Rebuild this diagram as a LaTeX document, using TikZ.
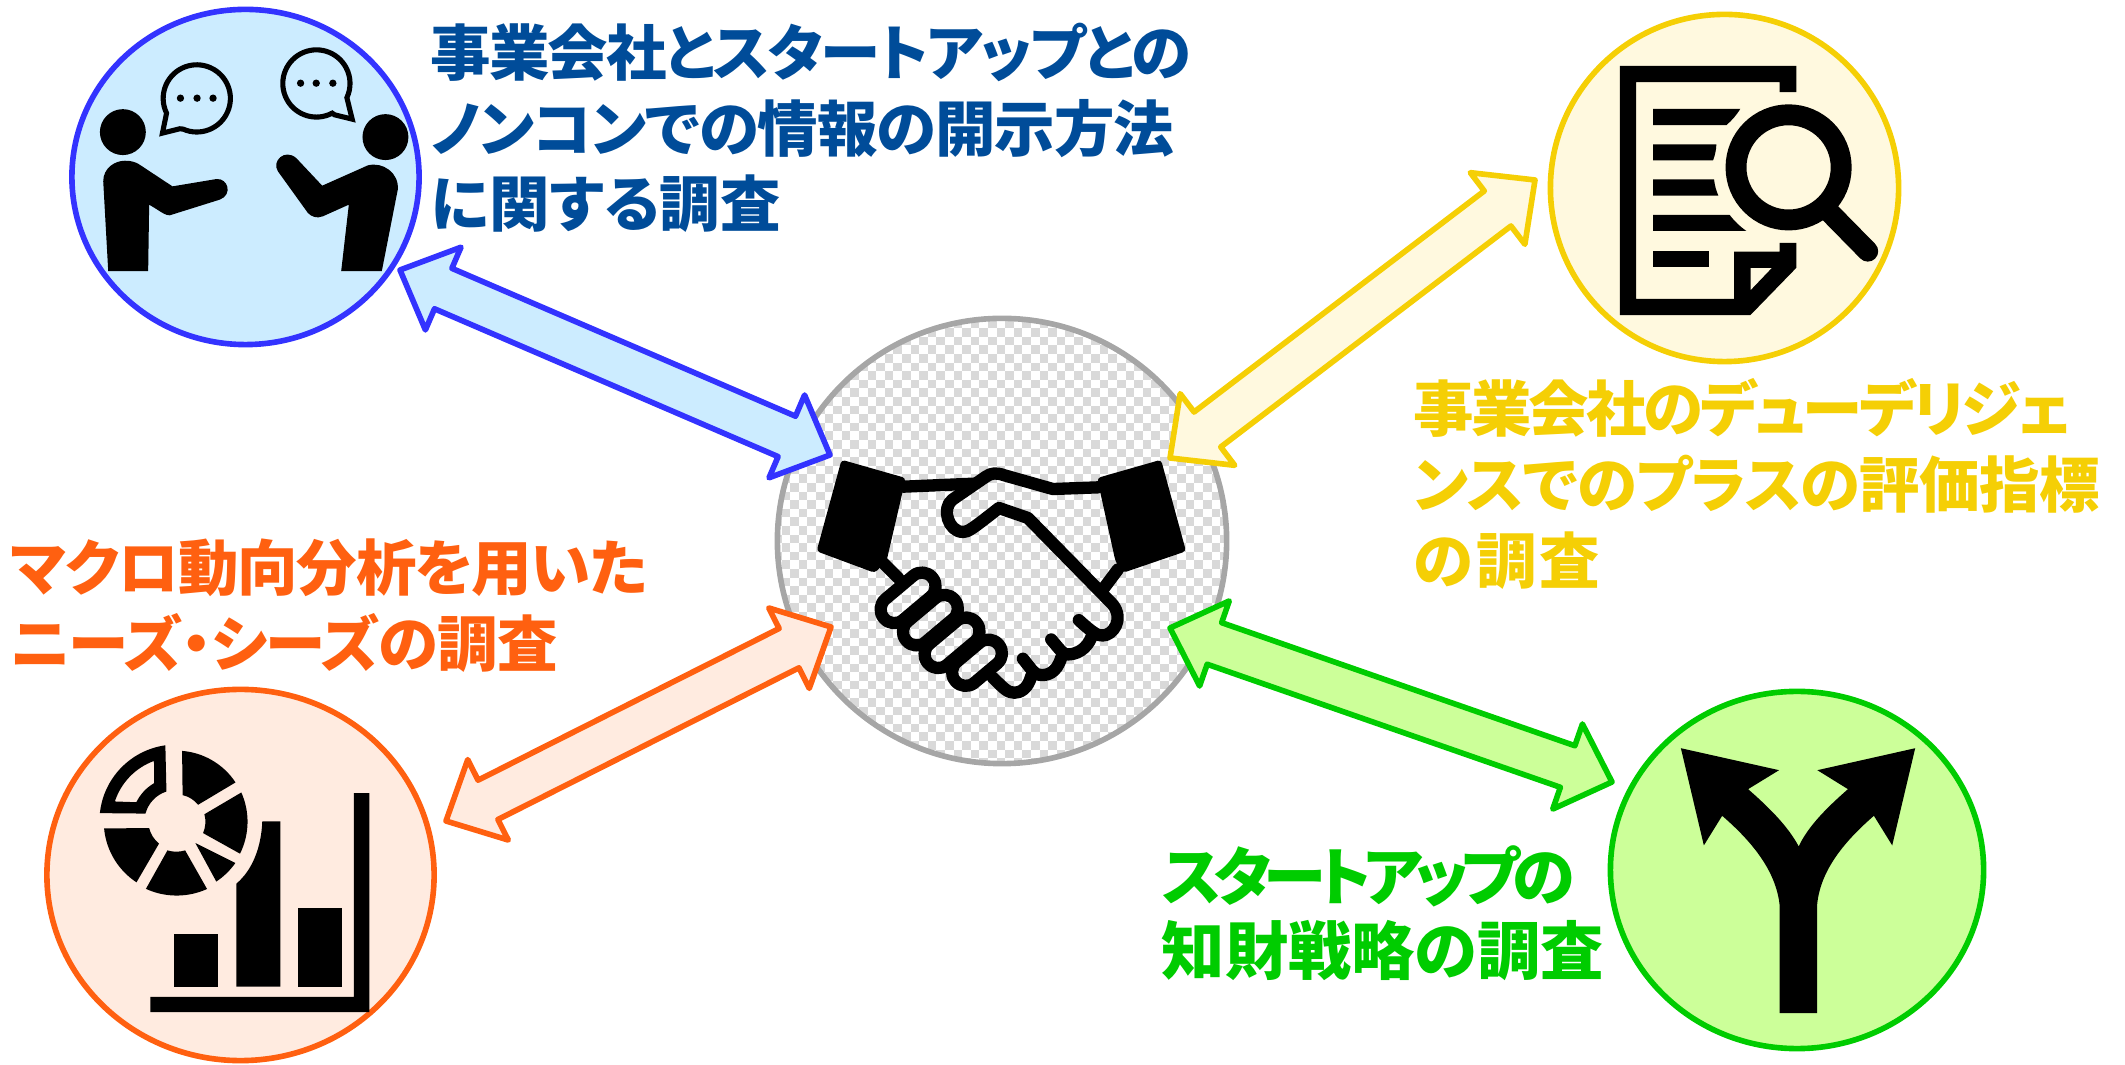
\documentclass[tikz,border=0pt]{standalone}
\usepackage{fontspec}
\newfontfamily\jpfont{Noto Sans CJK JP}[RawFeature=+palt]
\newcommand{\squeeze}[2]{{\addfontfeature{LetterSpace=#1}#2}}
\usetikzlibrary{positioning}
\usetikzlibrary{calc}
\usetikzlibrary{shapes.geometric}

\definecolor{talkline}{HTML}{3333FF}
\definecolor{talkfill}{HTML}{CCECFF}
\definecolor{talktext}{HTML}{004C99}
\definecolor{reportline}{HTML}{F5CF05}
\definecolor{reportfill}{HTML}{FFF9DF}
\definecolor{dataline}{HTML}{FF6010}
\definecolor{datafill}{HTML}{FFEBE0}
\definecolor{forkline}{HTML}{00CC00}
\definecolor{forkfill}{HTML}{CCFF99}
\definecolor{hubline}{HTML}{A6A6A6}
\definecolor{checker}{HTML}{D9D9D9}

\tikzset{
    bubble/.style={ellipse, draw, line width=1.6pt, inner sep=0pt, outer sep=0pt},
    caption/.style={anchor=north west, inner sep=0pt, align=left, font=\jpfont\bfseries\fontsize{17.2pt}{21.6pt}\selectfont},
    icon/.style={x=0.003333cm, y=-0.003333cm},
    blockarrow/.style={line width=1.6pt, line join=round},
    grip/.style={draw=black, line width=3.5pt, line cap=round, line join=round}
}

\begin{document}
\begin{tikzpicture}[x=0.01cm, y=-0.01cm]
    \useasboundingbox (0,0) rectangle (2125,1065);

    % Checkered centre
    \begin{scope}
        \clip (1002,541) ellipse (225 and 223);
        \foreach \off in {0,1}
            \foreach \i in {0,2,...,54}
                \foreach \j in {0,2,...,54}
                    \fill[checker] ({773+(\i+\off)*8.6},{311.1+(\j+\off)*8.6}) rectangle ++(8.6,8.6);
    \end{scope}

    % The circles
    \node[bubble, draw=hubline, minimum width=4.49cm, minimum height=4.45cm] (hub) at (1002,541) {};
    \node[bubble, draw=talkline, fill=talkfill, minimum width=3.47cm, minimum height=3.35cm] (talk) at (245.5,177) {};
    \node[bubble, draw=reportline, fill=reportfill, minimum width=3.48cm, minimum height=3.47cm] (report) at (1724.5,188) {};
    \node[bubble, draw=dataline, fill=datafill, minimum width=3.87cm, minimum height=3.71cm] (data) at (240.5,875) {};
    \node[bubble, draw=forkline, fill=forkfill, minimum width=3.73cm, minimum height=3.57cm] (fork) at (1797,870) {};

    % Define the tips of the arrows
    \coordinate (talkout) at (400,270);
    \coordinate (talkin) at (830,455);
    \coordinate (reportout) at (1535,180);
    \coordinate (reportin) at (1170,458);
    \coordinate (dataout) at (446,821);
    \coordinate (datain) at (831,627);
    \coordinate (forkout) at (1612,782);
    \coordinate (forkin) at (1170,628);

    % Draw the arrows
    \foreach \tipa/\tipb/\colline/\colfill in {talkout/talkin/talkline/talkfill, reportout/reportin/reportline/reportfill, dataout/datain/dataline/datafill, forkout/forkin/forkline/forkfill} {
        \coordinate (s) at ($(\tipa)!0.47cm!(\tipb)$);
        \coordinate (e) at ($(\tipb)!0.47cm!(\tipa)$);
        \draw[blockarrow, draw=\colline, fill=\colfill] (\tipa)
            -- ($(s)!0.45cm!90:(\tipb)$) -- ($(s)!0.22cm!90:(\tipb)$)
            -- ($(e)!0.22cm!-90:(\tipa)$) -- ($(e)!0.45cm!-90:(\tipa)$)
            -- (\tipb)
            -- ($(e)!0.45cm!90:(\tipa)$) -- ($(e)!0.22cm!90:(\tipa)$)
            -- ($(s)!0.22cm!-90:(\tipb)$) -- ($(s)!0.45cm!-90:(\tipb)$) -- cycle;
    }

    % Two people talking
    \begin{scope}[shift={(40,0)}, icon]
        \fill (249,397) circle (69);
        \fill (1038,412) circle (69);
        \fill (205,815) -- (190,545) .. controls (190,505) and (225,483) .. (255,483)
            .. controls (275,483) and (285,487) .. (295,492) -- (398,560) -- (530,538)
            .. controls (565,535) and (580,585) .. (540,600) -- (390,647)
            .. controls (375,647) and (370,640) .. (328,615) -- (325,815) -- cycle;
        \fill (905,815) -- (928,615) -- (850,650) .. controls (830,658) and (815,650) .. (805,640)
            -- (715,515) .. controls (695,485) and (735,445) .. (770,475) -- (848,558) -- (985,497)
            .. controls (1030,485) and (1080,520) .. (1075,570) -- (1027,815) -- cycle;
        \draw[line width=1.45pt, line join=miter] (430,388) arc (114:-206:101) -- (368,400) -- (420,387) -- cycle;
        \draw[line width=1.45pt, line join=miter] (878,340) arc (62:385:101) -- (938,358) -- (885,345) -- cycle;
        \foreach \dotx/\doty in {422/295, 472/295, 520/295, 783/250, 830/250, 880/250}
            \fill (\dotx,\doty) circle (11);
    \end{scope}

    % Report with magnifier
    \begin{scope}[shift={(1530,0)}, icon]
        \fill[even odd rule] (270,198) -- (800,198) -- (800,277) -- (750,277) -- (750,247) -- (319,247)
            -- (319,898) -- (613,898) -- (613,756) -- (750,756) -- (750,730) -- (800,730) -- (800,805)
            -- (662,947) -- (270,947) -- cycle
            (663,805) -- (727,805) -- (663,872) -- cycle;
        \fill (370,327) -- (632,327) to[bend left=8] (590,376) -- (370,376) -- cycle;
        \fill (370,434) -- (560,434) to[bend left=8] (550,482) -- (370,482) -- cycle;
        \fill (370,539) -- (553,539) to[bend right=8] (566,588) -- (370,588) -- cycle;
        \fill (370,646) -- (600,646) to[bend right=8] (650,694) -- (370,694) -- cycle;
        \fill (370,754) rectangle (538,802);
        \draw[line width=5.95pt] (777,503) circle (158);
        \draw[line width=5.9pt, line cap=round] (902,640) -- (1015,755);
    \end{scope}

    % Pie and bar chart
    \begin{scope}[shift={(30,680)}, icon]
        \fill[even odd rule] (210,400) arc (186:262:230) -- (410,335) arc (252:195:96) -- cycle
            (255,365) arc (198:250:193) -- (373,310) arc (240:206:134) -- cycle;
        \fill (457,213) arc (274.6:326.5:213) -- (505,375) arc (322:282:80) -- cycle;
        \fill (635,338) arc (336:386.4:216) -- (520,460) arc (23.6:-15.4:85) -- cycle;
        \fill (617,550) arc (35.2:56.3:218) -- (497,490) -- cycle;
        \fill (532,628) arc (65.6:114.7:221) -- (413,512) arc (107:73:91) -- cycle;
        \fill (320,608) arc (123.3:174.7:218) -- (358,445) arc (166:129:87) -- cycle;
        \fill (433,764) rectangle (565,921);
        \fill (620,921) -- (620,612) .. controls (670,570) and (695,500) .. (698,425) -- (752,425) -- (752,921) -- cycle;
        \fill (804,686) rectangle (936,921);
        \fill (362,952) -- (973,952) -- (973,340) -- (1020,340) -- (1020,998) -- (362,998) -- cycle;
    \end{scope}

    % Forked road
    \begin{scope}[shift={(1600,680)}, icon]
        \fill (540,1001) -- (540,680) .. controls (530,570) and (450,480) .. (367,408)
            -- (312,497) -- (243,205) -- (538,271) -- (445,328)
            .. controls (510,385) and (565,440) .. (597,500)
            .. controls (625,440) and (680,385) .. (745,328)
            -- (653,271) -- (947,205) -- (878,497) -- (823,408)
            .. controls (740,480) and (660,570) .. (652,680) -- (652,1001) -- cycle;
    \end{scope}

    % Handshake
    \begin{scope}[shift={(760,300)}, icon]
        \fill[rounded corners=1pt] (245,480) -- (438,535) -- (380,785) -- (345,820) -- (170,755) -- cycle;
        \fill[rounded corners=1pt] (1205,480) -- (1013,535) -- (1068,785) -- (1090,820) -- (1280,755) -- cycle;
        \draw[grip] (430,561) -- (640,552);
        \draw[grip] (1015,563) -- (880,568) -- (735,527) .. controls (710,518) and (695,520) .. (680,530)
            -- (578,600) .. controls (545,625) and (565,697) .. (610,697)
            .. controls (625,697) and (635,690) .. (718,625) -- (805,655) -- (1060,915)
            .. controls (1095,960) and (1060,1008) .. (1030,1008)
            .. controls (1015,1008) and (1005,1005) .. (958,962);
        \draw[grip] (1000,1000) .. controls (985,1055) and (945,1065) .. (925,1065)
            .. controls (910,1065) and (905,1055) .. (875,1020);
        \draw[grip] (905,1075) .. controls (890,1125) and (860,1127) .. (845,1127)
            .. controls (825,1127) and (820,1115) .. (790,1078);
        \draw[grip] (815,1130) .. controls (805,1170) and (780,1180) .. (765,1180)
            .. controls (745,1180) and (735,1170) .. (700,1135);
        \draw[grip] (370,790) -- (415,835);
        \draw[grip] (1075,810) -- (1030,870);
        \foreach \cx/\cy/\half in {445/895/95, 512/962/95, 577/1030/95, 652/1090/85}
            \draw[grip, rotate around={40:(\cx,\cy)}, rounded corners=3.8pt] (\cx-\half,\cy-41) rectangle (\cx+\half,\cy+41);
    \end{scope}

    % The labels
    \node[caption, text=talktext] (talklabel) at (430,22) {\squeeze{-3.3}{事業会社とスタートアップとの}\\\squeeze{-1.7}{ノンコンでの情報の開示方法}\\に関する調査};
    \node[caption, text=reportline] (reportlabel) at (1413,378) {\squeeze{-4.9}{事業会社のデューデリジェ}\\\squeeze{-1.2}{ンスでのプラスの評価指標}\\\squeeze{5}{の調査}};
    \node[caption, text=dataline] (datalabel) at (10,538) {\squeeze{-2.2}{マクロ動向分析を用いた}\\\squeeze{-1.3}{ニーズ・シーズの調査}};
    \node[caption, text=forkline, font=\jpfont\bfseries\fontsize{18pt}{21pt}\selectfont] (forklabel) at (1161,845) {\squeeze{-11.6}{スタートアップの}\\知財戦略の調査};
\end{tikzpicture}
\end{document}
